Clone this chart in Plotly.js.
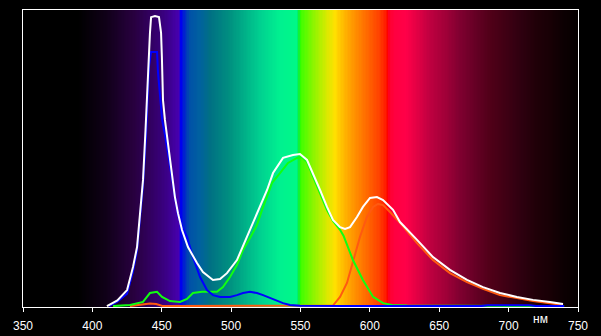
<!DOCTYPE html>
<html>
<head>
<meta charset="utf-8">
<script src="https://cdn.plot.ly/plotly-3.0.1.min.js"></script>
<style>html,body{margin:0;padding:0;background:#000;}#chart{width:601px;height:336px;}</style>
</head>
<body>
<div id="chart"></div>
<script>
// ---- data ----
const whiteWl = [410.5,418,425,429.3,432.2,434.3,436.5,438.3,438.9,439.4,440.8,441.5,442.3,445.1,448.0,449.5,450.1,450.5,450.9,452.3,458.1,459.5,461.7,464.6,468.9,475.4,479.7,486.9,492.0,497.0,504.2,511.4,518.6,525.9,530.2,537.4,544.6,549.6,554.7,559.0,564.1,569.1,573.4,578.5,582.1,585.7,590.7,595.0,600.1,605.1,609.5,616.7,621.7,634.0,645.5,657.7,670.0,681.5,693.8,706.0,717.6,729.8,739.2];
const whiteVal = [0.3,2.2,5.7,13.5,20.2,31.6,42.8,59.6,66.3,74.1,85.5,92.3,97.6,98.0,97.6,92.3,84.2,77.4,69.7,63.0,42.8,37.0,31.6,25.9,20.2,14.8,11.8,9.1,9.4,11.4,15.8,23.6,31.6,39.4,45.1,50.2,51.2,51.5,49.5,45.1,39.4,33.7,29.3,26.9,26.3,26.9,30.3,33.7,36.7,37.0,36.0,32.7,28.6,22.6,16.8,12.5,9.1,6.7,4.7,3.4,2.4,1.7,1.0];

const blueWl = [412,418,425,429.3,432.2,434.3,436.5,438.6,439.4,440.8,442.3,446.6,447.3,448.7,450.3,452.3,458.1,461.7,464.6,468.2,472.5,477.6,482.6,486.9,492.0,499.2,504.2,508.6,513.6,518.6,523.0,528.0,533.1,537.4,542.4,549.6,600,680,685,715,720,740];
const blueVal = [0.3,1.8,4.5,12,19,30,41,57,68,81,85.9,85.9,79,70,63,58,42,31,27,23.6,16.8,10.1,5.7,4.0,3.4,3.4,4.0,4.7,5.1,4.7,4.0,3.0,2.0,1.3,0.7,0.4,0.3,0.3,0.6,0.6,0.3,0.3];

const greenWl = [414.9,427.1,436.5,441.5,446.6,450.2,455.9,463.2,468.2,472.5,479.0,489.8,494.1,499.2,504.2,508.6,513.6,518.6,522.3,525.9,529.5,535.2,541.0,547.5,551.1,554.7,559.0,564.1,569.1,573.4,578.5,581.0,587.8,595.0,602.3,609.5,616.0,626.8,680,740];
const greenVal = [0.3,0.7,1.7,4.7,5.1,3.4,2.0,1.7,2.7,4.7,5.1,5.1,6.7,10.1,14.1,19.2,23.2,27.6,32.7,37.0,41.8,45.1,48.5,50.2,50.5,48.8,44.0,38.2,32.6,29.0,26.0,24.0,15.8,9.1,3.4,1.3,0.7,0.5,0.3,0.3];

const orangeWl = [427,437,441.5,446,451,573.4,578.5,583.5,587.8,592.9,597.9,602.3,605.9,609.5,614.5,621.7,634.0,645.5,657.7,670.0,681.5,693.8,706.0,717.6,729.8,739.2];
const orangeVal = [0.3,1.0,1.2,1.0,0.3,0.5,3.4,8.1,14.8,23.6,30.3,33.7,34.7,34.3,32.0,28.3,21.5,15.8,11.4,8.4,6.1,4.0,3.0,2.0,1.3,0.7];

const tickVals = [350,400,450,500,550,600,650,700,750];
const tickText = ['350','400','450','500','550','600','650','700','750'];
const unitLabel = 'нм';

// spectrum background colour stops (wavelength, colour)
const bgStopWl = [350,390,400,410,420,430,440,450,458,462.5,464,466,470,477,485,499,510,521,535,547,548.5,549.5,550.5,556,564,570,575,580,586,593,600,607,611,613,614.5,618,626,635,643,655,665,677,687,698,708,720,730,740,750];
const bgStopCol = ['#000000','#000000','#08000c','#100018','#1c002c','#28003f','#30005a','#38007a','#40009a','#4800b0','#0000f0','#0020d0','#0050a8','#0060a0','#007084','#009080','#00b088','#00d090','#00f090','#00f888','#00ea68','#20ff00','#40ff00','#70f800','#b0f000','#e0e800','#ffe000','#ffc000','#ffa000','#ff8000','#ff6000','#ff4000','#ff2000','#ff0000','#ff0030','#ff0040','#ff0048','#e00044','#c00040','#a00038','#800030','#640024','#500018','#400014','#300010','#200008','#180005','#0c0002','#050000'];

// ---- build background heatmap ----
const bgX = [];
for (let w = 350; w <= 750; w += 1) bgX.push(w);
const bgZ = [bgX.slice(), bgX.slice()];
const colorscale = bgStopWl.map((w, i) => [(w - 350) / 400, bgStopCol[i]]);

const traces = [
  {type:'heatmap', x:bgX, y:[0,100], z:bgZ, zmin:350, zmax:750, colorscale:colorscale, showscale:false, hoverinfo:'skip'},
  {type:'scatter', mode:'lines', x:orangeWl, y:orangeVal, line:{color:'#ff5a10', width:2}, hoverinfo:'skip'},
  {type:'scatter', mode:'lines', x:greenWl, y:greenVal, line:{color:'#10ff10', width:2}, hoverinfo:'skip'},
  {type:'scatter', mode:'lines', x:blueWl, y:blueVal, line:{color:'#0000ff', width:2}, hoverinfo:'skip'},
  {type:'scatter', mode:'lines', x:whiteWl, y:whiteVal, line:{color:'#ffffff', width:2}, hoverinfo:'skip'}
];

const layout = {
  width:601, height:336,
  margin:{l:23, r:23, t:10, b:29, pad:0},
  paper_bgcolor:'#000000', plot_bgcolor:'#000000',
  showlegend:false,
  font:{family:'"Liberation Sans", Arial, sans-serif', color:'#ffffff', size:12},
  xaxis:{range:[350,750], tickvals:tickVals, ticktext:tickText, ticks:'outside', ticklen:4, tickcolor:'#ffffff', tickwidth:1,
         ticklabelstandoff:4,
         showline:true, linecolor:'#ffffff', linewidth:1, mirror:true, showgrid:false, zeroline:false,
         tickfont:{size:12, color:'#ffffff'}},
  yaxis:{range:[0,100], showline:true, linecolor:'#ffffff', linewidth:1, mirror:true, showgrid:false, zeroline:false,
         showticklabels:false, ticks:''},
  annotations:[{text:unitLabel, xref:'x', yref:'paper', x:723, y:-0.042, showarrow:false, xanchor:'center', yanchor:'middle',
                font:{size:12, color:'#ffffff'}}]
};

Plotly.newPlot('chart', traces, layout, {staticPlot:true, displayModeBar:false});
</script>
</body>
</html>
